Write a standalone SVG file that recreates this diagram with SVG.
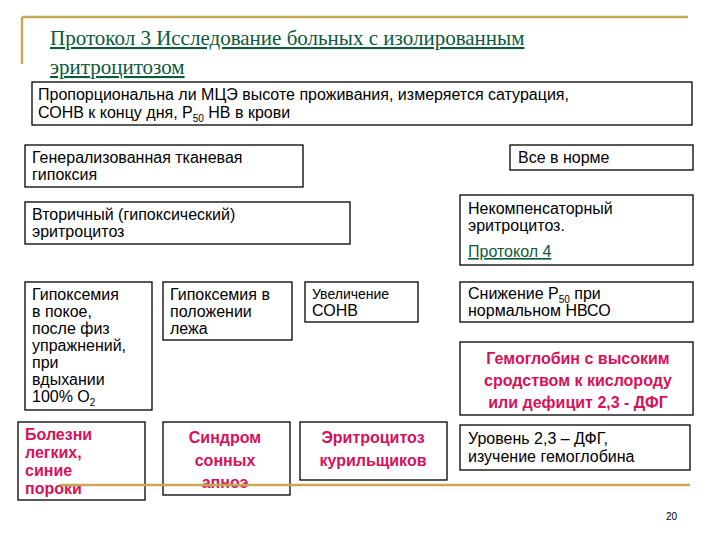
<svg xmlns="http://www.w3.org/2000/svg" width="720" height="540" viewBox="0 0 720 540">
<style>
.b{fill:#fff;stroke:#000;stroke-width:1.3}
.t{font-family:"Liberation Sans",Arial,sans-serif;font-size:16px;fill:#000}
.p{font-family:"Liberation Sans",Arial,sans-serif;font-size:16px;font-weight:bold;fill:#d8105a;text-anchor:middle}
.s{text-anchor:start}
.g{fill:#0b5a3c;text-decoration:underline}
</style>
<rect width="720" height="540" fill="#fff"/>
<g id="title" font-family="Liberation Serif,serif" font-size="21">
<text x="50" y="45" class="g">Протокол 3 Исследование больных с изолированным</text>
<text x="50" y="74" class="g">эритроцитозом</text>
</g>
<g id="n1"><rect class="b" x="32" y="82" width="660" height="43"/>
<text class="t" x="38" y="100">Пропорциональна ли МЦЭ высоте проживания, измеряется сатурация,</text>
<text class="t" x="38" y="118">СОНВ к концу дня, Р<tspan font-size="10" dy="4">50</tspan><tspan dy="-4"> НВ в крови</tspan></text></g>
<g id="n2"><rect class="b" x="25" y="145" width="278" height="42"/>
<text class="t" x="32" y="163">Генерализованная тканевая</text><text class="t" x="32" y="180">гипоксия</text></g>
<g id="n3"><rect class="b" x="510" y="145" width="183" height="25"/>
<text class="t" x="518" y="163">Все в норме</text></g>
<g id="n4"><rect class="b" x="25" y="202" width="325" height="42"/>
<text class="t" x="32" y="220">Вторичный (гипоксический)</text><text class="t" x="32" y="237">эритроцитоз</text></g>
<g id="n5"><rect class="b" x="460" y="195" width="233" height="70"/>
<text class="t" x="468" y="214">Некомпенсаторный</text><text class="t" x="468" y="231">эритроцитоз.</text>
<text class="t g" x="468" y="257">Протокол 4</text></g>
<g id="n6"><rect class="b" x="25" y="282" width="127" height="128"/>
<text class="t" x="32" y="300">Гипоксемия</text><text class="t" x="32" y="317">в покое,</text><text class="t" x="32" y="334">после физ</text><text class="t" x="32" y="351">упражнений,</text><text class="t" x="32" y="368">при</text><text class="t" x="32" y="385">вдыхании</text><text class="t" x="32" y="402">100% О<tspan font-size="10" dy="4">2</tspan></text></g>
<g id="n7"><rect class="b" x="163" y="282" width="129" height="58"/>
<text class="t" x="170" y="300">Гипоксемия в</text><text class="t" x="170" y="317">положении</text><text class="t" x="170" y="334">лежа</text></g>
<g id="n8"><rect class="b" x="305" y="282" width="113" height="40"/>
<text class="t" x="312" y="299" style="font-size:14px">Увеличение</text><text class="t" x="312" y="316">СОНВ</text></g>
<g id="n9"><rect class="b" x="460" y="282" width="233" height="40"/>
<text class="t" x="468" y="299">Снижение Р<tspan font-size="10" dy="4">50</tspan><tspan dy="-4"> при</tspan></text><text class="t" x="468" y="316">нормальном НВСО</text></g>
<g id="n10"><rect class="b" x="460" y="342" width="233" height="73"/>
<text class="p" x="578" y="364">Гемоглобин с высоким</text><text class="p" x="578" y="386">сродством к кислороду</text><text class="p" x="578" y="408">или дефицит 2,3 - ДФГ</text></g>
<g id="n11"><rect class="b" x="18" y="422" width="127" height="78"/>
<text class="p s" x="25" y="440">Болезни</text><text class="p s" x="25" y="458">легких,</text><text class="p s" x="25" y="476">синие</text><text class="p s" x="25" y="494">пороки</text></g>
<g id="n12"><rect class="b" x="163" y="422" width="127" height="73"/>
<text class="p" x="225" y="443">Синдром</text><text class="p" x="225" y="466">сонных</text><text class="p" x="225" y="488">апноэ</text></g>
<g id="n13"><rect class="b" x="300" y="422" width="147" height="58"/>
<text class="p" x="373" y="443">Эритроцитоз</text><text class="p" x="373" y="466">курильщиков</text></g>
<g id="n14"><rect class="b" x="460" y="425" width="230" height="45"/>
<text class="t" x="468" y="444">Уровень 2,3 – ДФГ,</text><text class="t" x="468" y="462">изучение гемоглобина</text></g>
<g id="deco" stroke="#c8a850" stroke-width="2.5">
<line x1="22" y1="17" x2="688" y2="17"/>
<line x1="22" y1="17" x2="22" y2="64"/>
<line x1="60" y1="485" x2="690" y2="485"/>
</g>
<g id="connectors"/>
<text x="666" y="520" font-family="Liberation Sans,sans-serif" font-size="10">20</text>
</svg>
